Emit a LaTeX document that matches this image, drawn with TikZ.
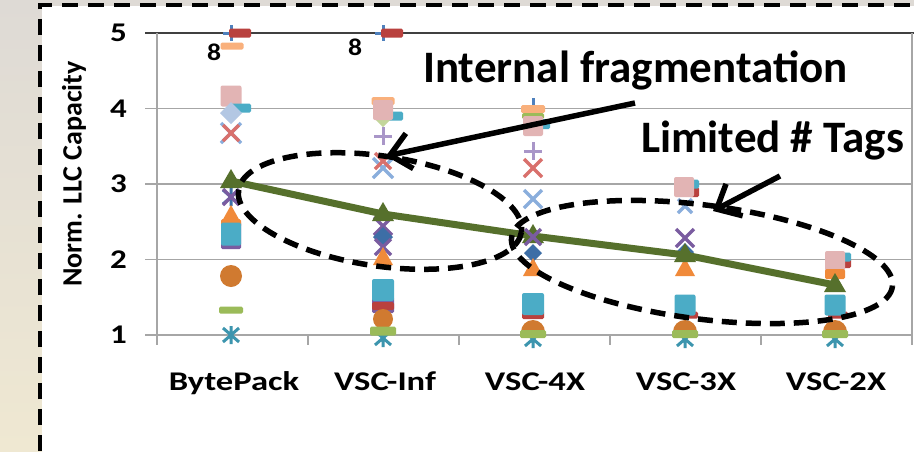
\documentclass[tikz,border=0pt]{standalone}
\usepackage{fontspec}
\setmainfont{Carlito}
\usetikzlibrary{arrows.meta}
\definecolor{cBlue}{HTML}{4F81BD}
\definecolor{cRed}{HTML}{C0504D}
\definecolor{cDRed}{HTML}{B9413E}
\definecolor{cGreen}{HTML}{9BBB59}
\definecolor{cPurple}{HTML}{7A5CA0}
\definecolor{cLPurple}{HTML}{A996C8}
\definecolor{cAqua}{HTML}{4BACC6}
\definecolor{cTeal}{HTML}{3C95AE}
\definecolor{cOrange}{HTML}{F08A3A}
\definecolor{cLOrange}{HTML}{F9B07C}
\definecolor{cBrown}{HTML}{D07A30}
\definecolor{cPink}{HTML}{E2B4B4}
\definecolor{cLBlue}{HTML}{B3C7E3}
\definecolor{cXBlue}{HTML}{8AAEDC}
\definecolor{cLRed}{HTML}{D9706C}
\definecolor{cDBlue}{HTML}{3D6EA6}
\definecolor{cLine}{HTML}{56702C}
\definecolor{cGrid}{HTML}{A6A6A6}
\definecolor{cBgTop}{HTML}{DEDAD5}
\definecolor{cBgBot}{HTML}{EFE8D2}
\newcommand\mSq[4]{\fill[#4,rounded corners=2pt] (#1-#3/2,#2-#3/2) rectangle (#1+#3/2,#2+#3/2);}
\newcommand\mRect[5]{\fill[#5,rounded corners=1.5pt] (#1-#3/2,#2-#4/2) rectangle (#1+#3/2,#2+#4/2);}
\newcommand\mX[4]{\draw[#4,line width=3.2pt] (#1-#3,#2-#3)--(#1+#3,#2+#3) (#1-#3,#2+#3)--(#1+#3,#2-#3);}
\newcommand\mPlus[4]{\draw[#4,line width=3pt] (#1-#3,#2)--(#1+#3,#2) (#1,#2-#3)--(#1,#2+#3);}
\newcommand\mAst[3]{\draw[#3,line width=3pt] (#1-8,#2-7)--(#1+8,#2+7) (#1-8,#2+7)--(#1+8,#2-7) (#1,#2-9)--(#1,#2+9);}
\newcommand\mTri[4]{\fill[#4] (#1,#2-#3)--(#1+#3,#2+0.8*#3)--(#1-#3,#2+0.8*#3)--cycle;}
\newcommand\mDia[4]{\fill[#4] (#1,#2-#3)--(#1+#3,#2)--(#1,#2+#3)--(#1-#3,#2)--cycle;}
\newcommand\mDome[3]{\fill[#3] (#1-12,#2) arc (180:360:12) -- cycle;}
\begin{document}
\begin{tikzpicture}[x=1pt,y=-1pt,
  ticklbl/.style={font=\fontsize{27}{30}\selectfont\bfseries, xscale=1.22, inner sep=0pt},
  catlbl/.style={font=\fontsize{27}{30}\selectfont\bfseries, xscale=1.28, inner sep=0pt, anchor=base},
  eightlbl/.style={font=\fontsize{24}{28}\selectfont\bfseries, xscale=1.15, inner sep=0pt},
  biglbl/.style={font=\fontsize{45}{50}\selectfont\bfseries, inner sep=0pt, anchor=base west},
  grid/.style={cGrid, line width=1.6pt},
  ellip/.style={line width=5.5pt, dash pattern=on 15pt off 9pt},
  callout/.style={line width=5.5pt, -{Straight Barb[length=20pt,width=36pt,line width=5.5pt]}},
  border/.style={line width=4.5pt, dash pattern=on 16pt off 10pt}]
\useasboundingbox (0,0) rectangle (914,451);
\clip (0,0) rectangle (914,451);
% background
\shade[top color=cBgTop, bottom color=cBgBot] (0,0) rectangle (42,451);
\fill[cBgTop] (0,0) rectangle (914,6);
\fill[white] (42,6) rectangle (914,451);
% grid and axes
\foreach \yy in {108.5,184,259.5} {\draw[grid] (145,\yy) -- (912,\yy);}
\draw[black!75, line width=1.6pt] (145,33) -- (914,33);
\draw[grid] (145,335) -- (912,335);
\draw[grid] (157,33) -- (157,345);
\draw[grid] (912,33) -- (912,345);
\foreach \xx in {308,459,610,761} {\draw[grid] (\xx,335) -- (\xx,345);}
% tick labels
\node[ticklbl, anchor=east] (t5) at (127,33) {5};
\node[ticklbl, anchor=east] (t4) at (127,108.5) {4};
\node[ticklbl, anchor=east] (t3) at (127,184) {3};
\node[ticklbl, anchor=east] (t2) at (127,259.5) {2};
\node[ticklbl, anchor=east] (t1) at (127,335) {1};
\node[font=\fontsize{28}{32}\selectfont\bfseries, rotate=90, inner sep=0pt] (ytitle) at (74,174) {Norm. LLC Capacity};
\node[catlbl] (c1) at (234,390) {BytePack};
\node[catlbl] (c2) at (385,390) {VSC-Inf};
\node[catlbl] (c3) at (535,390) {VSC-4X};
\node[catlbl] (c4) at (686,390) {VSC-3X};
\node[catlbl] (c5) at (836,390) {VSC-2X};
\node[eightlbl] (e1) at (214,52) {8};
\node[eightlbl] (e2) at (355,47) {8};
% ---- BytePack markers
\mPlus{231}{33}{8}{cBlue}
\mRect{240}{33}{22}{9}{cDRed}
\mRect{232}{46}{23}{7}{cLOrange}
\mSq{231}{96}{21}{cPink}
\mRect{241}{108}{20}{9}{cAqua}
\mDia{231}{113}{11}{cLBlue}
\mX{231}{133}{10}{cXBlue}
\mX{231}{133}{8}{cLRed}
\mAst{231}{197}{cDBlue}
\mX{231}{197}{8}{cPurple}
\mRect{231}{235}{20}{28}{cPurple}
\mTri{231}{214}{9}{cOrange}
\mRect{231}{223}{20}{8}{cOrange}
\mRect{231}{234}{20}{23}{cAqua}
\fill[cBrown] (231,276) circle (11);
\mRect{231}{310}{24}{7}{cGreen}
\mAst{231}{335}{cTeal}
% ---- VSC-Inf markers
\mPlus{383}{33}{8}{cBlue}
\mRect{392}{33}{22}{9}{cDRed}
\mRect{383}{101}{23}{8}{cLOrange}
\mRect{393}{116}{20}{9}{cAqua}
\mDia{383}{117}{10}{cGreen!60}
\mSq{383}{110}{20}{cPink}
\mPlus{383}{136}{9}{cLPurple}
\mX{383}{168}{10}{cXBlue}
\mX{383}{161}{8}{cLRed}
\mX{383}{226}{9}{cPurple}
\mDia{383}{237}{10}{cDBlue}
\mX{383}{247}{8}{cPurple}
\mTri{383}{257}{10}{cOrange}
\mRect{383}{305}{22}{16}{cPurple}
\mRect{383}{306}{22}{8}{cDRed}
\mSq{383}{290}{22}{cAqua}
\fill[cBrown] (383,319) circle (10);
\mAst{383}{338}{cTeal}
\mRect{383}{331}{26}{9}{cGreen}
% ---- VSC-4X markers
\mPlus{533}{106}{8}{cBlue}
\mRect{533}{109}{24}{8}{cLOrange}
\mRect{543}{124}{14}{10}{cAqua}
\mRect{533}{116}{22}{6}{cGreen}
\mSq{533}{126}{20}{cPink}
\mPlus{533}{151}{9}{cLPurple}
\mX{533}{168}{9}{cLRed}
\mX{533}{199}{9}{cXBlue}
\mDia{533}{253}{9}{cDBlue}
\mTri{533}{268}{10}{cOrange}
\mRect{533}{315}{22}{8}{cDRed}
\mSq{533}{304}{22}{cAqua}
\mAst{533}{339}{cTeal}
\mDome{533}{332}{cBrown}
\mRect{533}{334}{26}{8}{cGreen}
% ---- VSC-3X markers
\mRect{694}{192}{10}{10}{cDRed}
\mRect{694}{184}{10}{9}{cAqua}
\mSq{684}{187}{20}{cPink}
\mX{685}{206}{7}{cXBlue}
\mX{685}{238}{9}{cPurple}
\mDia{685}{252}{9}{cDBlue}
\mTri{685}{268}{10}{cOrange}
\mRect{688}{315}{20}{7}{cDRed}
\mSq{685}{305}{21}{cAqua}
\mAst{685}{339}{cTeal}
\mDome{685}{332}{cBrown}
\mRect{685}{334}{26}{8}{cGreen}
% ---- VSC-2X markers
\mRect{846}{263}{10}{10}{cDRed}
\mRect{846}{257}{10}{9}{cAqua}
\mSq{835}{261}{20}{cPink}
\mRect{835}{274}{20}{10}{cOrange}
\mRect{838}{315}{20}{7}{cDRed}
\mSq{835}{305}{21}{cAqua}
\mAst{835}{339}{cTeal}
\mDome{835}{332}{cBrown}
\mRect{835}{334}{26}{8}{cGreen}
% ---- average line
\coordinate (p1) at (231,181);
\coordinate (p2) at (383,214);
\coordinate (p3) at (533,236);
\coordinate (p4) at (685,255);
\coordinate (p5) at (835,285);
\draw[cLine, line width=7pt] (p1) -- (p2) -- (p3) -- (p4) -- (p5);
\foreach \pp in {p1,p2,p3,p4,p5} {\fill[cLine] (\pp) ++(0,-12) -- ++(11,19) -- ++(-22,0) -- cycle;}
\mX{533}{237}{8}{cPurple}
% ---- ellipses
\draw[ellip, rotate around={-8.4:(380,211)}] (380,211) ellipse [x radius=143, y radius=55];
\draw[ellip, rotate around={-7.3:(702,262)}] (702,262) ellipse [x radius=192, y radius=57];
% ---- callouts
\node[biglbl] (frag) at (423,82) {Internal fragmentation};
\node[biglbl] (tags) at (641,152) {Limited \# Tags};
\coordinate (fragtail) at (635,103);
\coordinate (fragtip) at (386,156);
\coordinate (tagtail) at (780,176);
\coordinate (tagtip) at (713,211);
\draw[callout] (fragtail) -- (fragtip);
\draw[callout] (tagtail) -- (tagtip);
% ---- border
\draw[border] (40,451) -- (40,5) -- (914,5);
\end{tikzpicture}
\end{document}
